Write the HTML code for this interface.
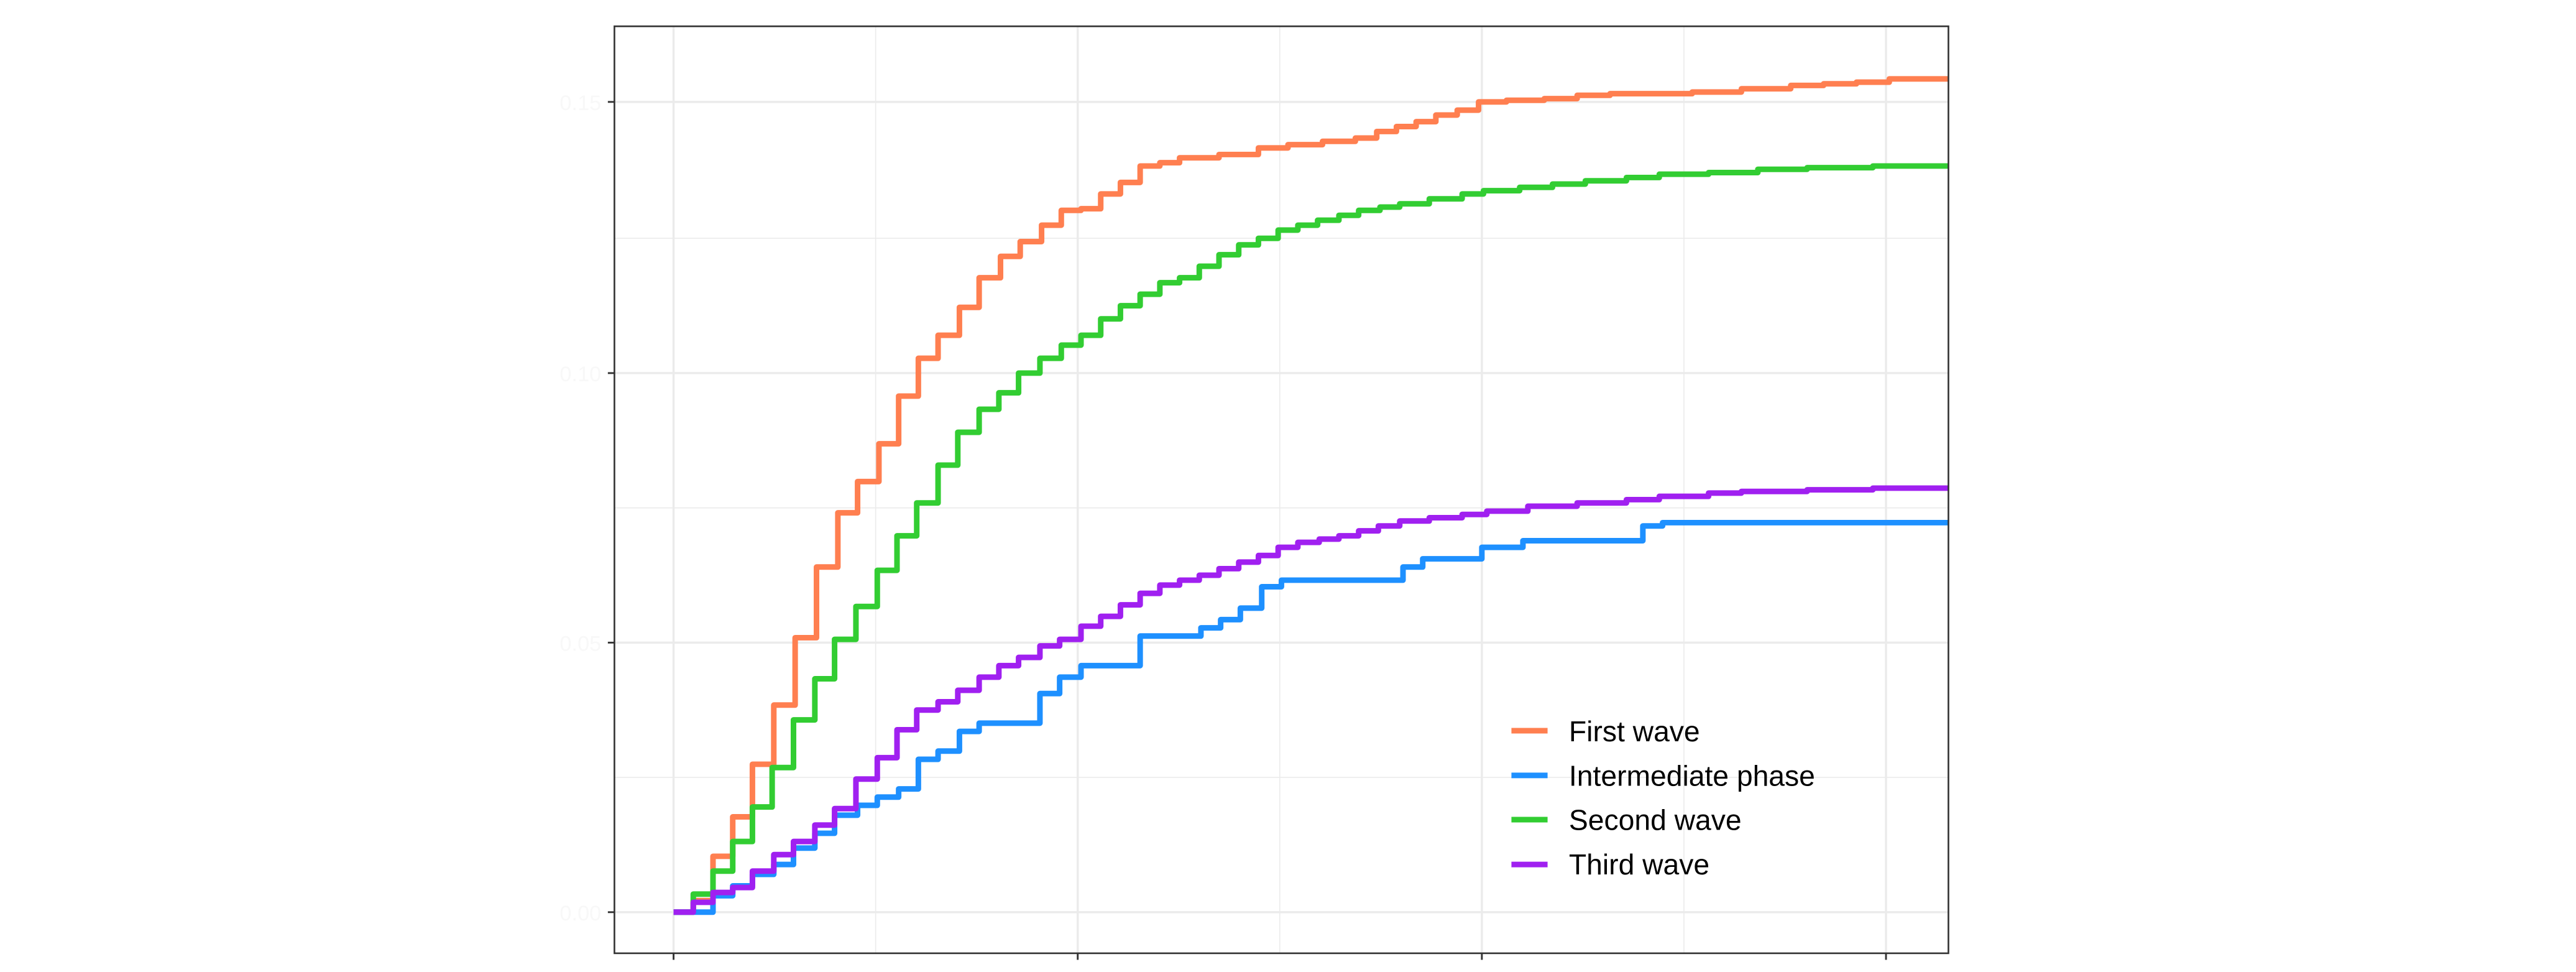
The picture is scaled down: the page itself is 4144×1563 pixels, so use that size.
<!DOCTYPE html>
<html><head><meta charset="utf-8"><style>
html,body{margin:0;padding:0;background:#fff;}
svg{display:block;}
</style></head><body>
<svg width="4144" height="1563" viewBox="0 0 1568 591.4" preserveAspectRatio="none" xmlns="http://www.w3.org/2000/svg" font-family="Liberation Sans, sans-serif">
<defs><clipPath id="c"><rect x="374" y="16" width="812" height="564"/></clipPath></defs>
<rect width="1568" height="591.4" fill="#fff"/>
<g stroke="#ebebeb" stroke-width="0.6">
<line x1="374" x2="1186" y1="473" y2="473"/><line x1="374" x2="1186" y1="309" y2="309"/><line x1="374" x2="1186" y1="145" y2="145"/>
<line x1="533" x2="533" y1="16" y2="580"/><line x1="779" x2="779" y1="16" y2="580"/><line x1="1025" x2="1025" y1="16" y2="580"/>
</g>
<g stroke="#ebebeb" stroke-width="1.3">
<line x1="374" x2="1186" y1="555" y2="555"/><line x1="374" x2="1186" y1="391" y2="391"/><line x1="374" x2="1186" y1="227" y2="227"/><line x1="374" x2="1186" y1="62" y2="62"/>
<line x1="410" x2="410" y1="16" y2="580"/><line x1="656" x2="656" y1="16" y2="580"/><line x1="902" x2="902" y1="16" y2="580"/><line x1="1148" x2="1148" y1="16" y2="580"/>
</g>
<g fill="none" stroke-width="3.4" stroke-linejoin="round" clip-path="url(#c)">
<path stroke="#ff7f50" d="M410,555 H422 V548 H434 V521 H446 V497 H458 V465 H471 V429 H484 V388 H497 V345 H510 V312 H522 V293 H535 V270 H547 V241 H559 V218 H571 V204 H584 V187 H596 V169 H609 V156 H621 V147 H634 V137 H646 V128 H658 V127 H670 V118 H682 V111 H694 V101 H706 V99 H718 V96 H742 V94 H766 V90 H784 V88 H805 V86 H825 V84 H838 V80 H850 V77 H862 V74 H874 V70 H887 V67 H900 V62 H917 V61 H940 V60 H960 V58 H980 V57 H1030 V56 H1060 V54 H1090 V52 H1110 V51 H1130 V50 H1150 V48 H1190"/>
<path stroke="#32cd32" d="M410,555 H422 V544 H434 V530 H446 V512 H458 V491 H470 V467 H483 V438 H496 V413 H508 V389 H521 V369 H534 V347 H546 V326 H558 V306 H571 V283 H583 V263 H596 V249 H608 V239 H620 V227 H633 V218 H646 V210 H658 V204 H670 V194 H682 V186 H694 V179 H706 V172 H718 V169 H730 V162 H742 V155 H754 V149 H766 V145 H778 V140 H790 V137 H802 V134 H815 V131 H827 V128 H840 V126 H852 V124 H870 V121 H890 V118 H903 V116 H925 V114 H945 V112 H965 V110 H990 V108 H1010 V106 H1040 V105 H1070 V103 H1100 V102 H1140 V101 H1190"/>
<path stroke="#1e90ff" d="M410,555 H434 V545 H446 V539 H458 V532 H471 V526 H483 V516 H496 V507 H508 V496 H522 V490 H534 V485 H547 V480 H559 V462 H571 V457 H584 V445 H596 V440 H633 V422 H645 V412 H658 V405 H694 V387 H731 V382 H743 V377 H755 V370 H768 V357 H780 V353 H854 V345 H866 V340 H902 V333 H927 V329 H1000 V320 H1012 V318 H1190"/>
<path stroke="#a020f0" d="M410,555 H422 V549 H434 V543 H446 V540 H458 V530 H471 V520 H483 V512 H496 V502 H508 V492 H521 V474 H534 V461 H546 V444 H558 V432 H571 V427 H583 V420 H596 V412 H608 V405 H620 V400 H633 V393 H645 V389 H658 V381 H670 V375 H682 V368 H694 V361 H706 V356 H718 V353 H730 V350 H742 V346 H754 V342 H766 V338 H778 V333 H790 V330 H803 V328 H815 V326 H827 V323 H839 V320 H852 V317 H870 V315 H890 V313 H905 V311 H930 V308 H960 V306 H990 V304 H1010 V302 H1040 V300 H1060 V299 H1100 V298 H1140 V297 H1190 V295"/>
</g>
<rect x="374" y="16" width="812" height="564" fill="none" stroke="#333" stroke-width="1"/>
<g stroke="#333" stroke-width="1.1">
<line x1="370" x2="374" y1="555" y2="555"/><line x1="370" x2="374" y1="391" y2="391"/><line x1="370" x2="374" y1="227" y2="227"/><line x1="370" x2="374" y1="62" y2="62"/>
<line x1="410" x2="410" y1="580" y2="584"/><line x1="656" x2="656" y1="580" y2="584"/><line x1="902" x2="902" y1="580" y2="584"/><line x1="1148" x2="1148" y1="580" y2="584"/>
</g>
<g fill="#f8f8f8" font-size="13" text-anchor="end">
<text x="366" y="560">0.00</text><text x="366" y="396">0.05</text><text x="366" y="232">0.10</text><text x="366" y="67">0.15</text>
</g>
<g stroke-width="3.4">
<line x1="920" x2="942" y1="444.6" y2="444.6" stroke="#ff7f50"/>
<line x1="920" x2="942" y1="471.8" y2="471.8" stroke="#1e90ff"/>
<line x1="920" x2="942" y1="498.7" y2="498.7" stroke="#32cd32"/>
<line x1="920" x2="942" y1="526" y2="526" stroke="#a020f0"/>
</g>
<g font-size="17.5" fill="#000">
<text x="955" y="451">First wave</text>
<text x="955" y="478">Intermediate phase</text>
<text x="955" y="505">Second wave</text>
<text x="955" y="532">Third wave</text>
</g>
</svg>
</body></html>
